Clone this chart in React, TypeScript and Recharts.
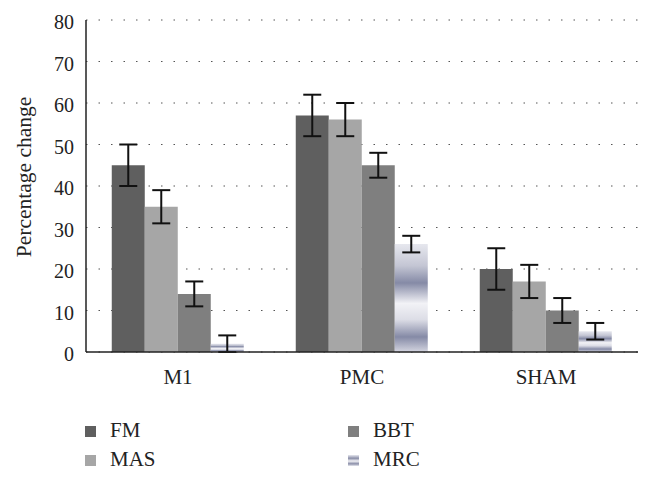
import { BarChart, Bar, XAxis, YAxis, CartesianGrid, ErrorBar } from 'recharts'

const categories = ['M1', 'PMC', 'SHAM']
const fm = [45, 57, 20]
const fmErr = [5, 5, 5]
const mas = [35, 56, 17]
const masErr = [4, 4, 4]
const bbt = [14, 45, 10]
const bbtErr = [3, 3, 3]
const mrc = [2, 26, 5]
const mrcErr = [2, 2, 2]
const yTicks = [0, 10, 20, 30, 40, 50, 60, 70, 80]

const data = categories.map((name, i) => ({
  name,
  fm: fm[i],
  fmErr: fmErr[i],
  mas: mas[i],
  masErr: masErr[i],
  bbt: bbt[i],
  bbtErr: bbtErr[i],
  mrc: mrc[i],
  mrcErr: mrcErr[i],
}))

const font = 'Liberation Serif, Times New Roman, serif'

const legendItems = [
  { label: 'FM', color: '#5f5f5f', x: 85, y: 426 },
  { label: 'MAS', color: '#a6a6a6', x: 85, y: 455 },
  { label: 'BBT', color: '#7f7f7f', x: 348, y: 426 },
  { label: 'MRC', color: 'url(#mrcLegend)', x: 348, y: 455 },
]

export default function App() {
  return (
    <div style={{ position: 'absolute', left: 0, top: 0, width: 649, height: 479, background: '#fff', fontFamily: font }}>
      <BarChart
        width={649}
        height={479}
        data={data}
        margin={{ top: 20, right: 11, left: 0, bottom: 97 }}
        barCategoryGap="14%"
        barGap={0}
      >
        <defs>
          <linearGradient id="mrcFill" x1="0" y1="0" x2="0" y2="1">
            <stop offset="0" stopColor="#e6e7ee" />
            <stop offset="0.2" stopColor="#c4c6d4" />
            <stop offset="0.36" stopColor="#858aa6" />
            <stop offset="0.55" stopColor="#f2f2f6" />
            <stop offset="0.7" stopColor="#dcdde6" />
            <stop offset="0.86" stopColor="#858aa6" />
            <stop offset="1" stopColor="#d4d5e0" />
          </linearGradient>
        </defs>
        <CartesianGrid vertical={false} stroke="#555" strokeDasharray="1.5 11" />
        <XAxis
          dataKey="name"
          tickLine={false}
          axisLine={{ stroke: '#222', strokeWidth: 1.5 }}
          tick={{ fill: '#222', fontSize: 21, fontFamily: font, dy: 9 }}
          height={30}
        />
        <YAxis
          domain={[0, 80]}
          ticks={yTicks}
          width={86}
          tickLine={false}
          axisLine={{ stroke: '#222', strokeWidth: 1.5 }}
          tick={{ fill: '#222', fontSize: 20, fontFamily: font, dy: 2 }}
          tickMargin={6}
        />
        <Bar dataKey="fm" fill="#5f5f5f" isAnimationActive={false}>
          <ErrorBar dataKey="fmErr" width={9} strokeWidth={2} stroke="#111" direction="y" />
        </Bar>
        <Bar dataKey="mas" fill="#a6a6a6" isAnimationActive={false}>
          <ErrorBar dataKey="masErr" width={9} strokeWidth={2} stroke="#111" direction="y" />
        </Bar>
        <Bar dataKey="bbt" fill="#7f7f7f" isAnimationActive={false}>
          <ErrorBar dataKey="bbtErr" width={9} strokeWidth={2} stroke="#111" direction="y" />
        </Bar>
        <Bar dataKey="mrc" fill="url(#mrcFill)" isAnimationActive={false}>
          <ErrorBar dataKey="mrcErr" width={9} strokeWidth={2} stroke="#111" direction="y" />
        </Bar>
      </BarChart>
      <svg width={649} height={479} style={{ position: 'absolute', left: 0, top: 0, pointerEvents: 'none' }}>
        <defs>
          <linearGradient id="mrcLegend" x1="0" y1="0" x2="0" y2="1">
            <stop offset="0" stopColor="#e6e7ee" />
            <stop offset="0.3" stopColor="#8a8ea8" />
            <stop offset="0.55" stopColor="#f2f2f6" />
            <stop offset="0.8" stopColor="#8a8ea8" />
            <stop offset="1" stopColor="#e6e7ee" />
          </linearGradient>
        </defs>
        <text
          x={31}
          y={177}
          transform="rotate(-90 31 177)"
          textAnchor="middle"
          fontSize={21.5}
          fill="#222"
          fontFamily={font}
        >
          Percentage change
        </text>
        {legendItems.map((it) => (
          <g key={it.label}>
            <rect x={it.x} y={it.y} width={11} height={11} fill={it.color} />
            <text x={it.x + 25} y={it.y + 11} fontSize={21} fill="#222" fontFamily={font}>
              {it.label}
            </text>
          </g>
        ))}
      </svg>
    </div>
  )
}
